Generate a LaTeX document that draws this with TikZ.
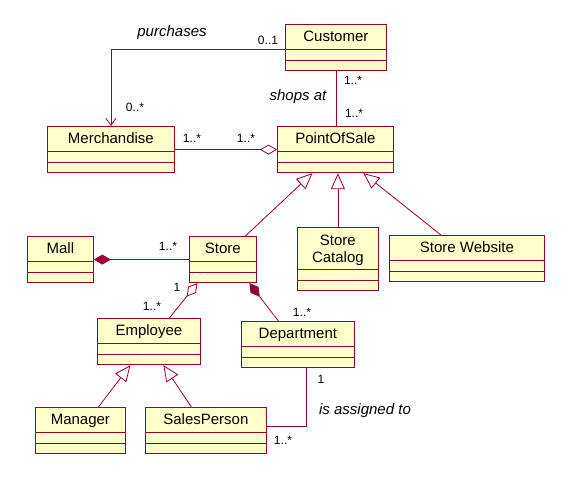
\documentclass[tikz,border=0pt]{standalone}
\usepackage{fontspec}
\setmainfont{Liberation Sans}
\usetikzlibrary{shapes.multipart,arrows.meta}

\definecolor{umlred}{RGB}{153,0,51}
\definecolor{umlfill}{RGB}{255,255,204}
\newcommand\cname[1]{\rule[-7pt]{0pt}{24pt}#1}

\tikzset{
  class/.style = { draw = umlred, fill = umlfill, line width = .8pt, rectangle split, rectangle split parts = 3,
    rectangle split empty part height = 10pt, rectangle split empty part depth = 0pt,
    inner ysep = 0pt, inner xsep = 2pt, anchor = north west, font = \fontsize{15}{17}\selectfont },
  assoc/.style = { draw = umlred, line width = .8pt },
  isa/.style = { assoc, -{Triangle[open, length = 16pt, width = 14pt, fill = white]} },
  agg/.style = { assoc, {Diamond[open, length = 17pt, width = 10pt, fill = white]}-{} },
  comp/.style = { assoc, {Diamond[length = 17pt, width = 10pt]}-{} },
  mult/.style = { font = \fontsize{12}{14}\selectfont, inner sep = 0pt },
  role/.style = { font = \fontsize{15}{17}\selectfont\itshape, inner sep = 0pt }
}

\begin{document}
\begin{tikzpicture}[x = 1pt, y = -1pt]
  \useasboundingbox (0,0) rectangle (569,476);

  \node [class, minimum width = 101pt] (customer) at (285,24) {\cname{Customer}\nodepart{two}\nodepart{three}};
  \node [class, minimum width = 127pt] (merch) at (47,126) {\cname{Merchandise}\nodepart{two}\nodepart{three}};
  \node [class, minimum width = 116pt] (pos) at (277,126) {\cname{PointOfSale}\nodepart{two}\nodepart{three}};
  \node [class, minimum width = 66pt] (mall) at (27,236) {\cname{Mall}\nodepart{two}\nodepart{three}};
  \node [class, minimum width = 67pt] (store) at (189,236) {\cname{Store}\nodepart{two}\nodepart{three}};
  \node [class, minimum width = 81pt] (catalog) at (297,227)
    {\rule[-6pt]{0pt}{41pt}\begin{tabular}[b]{@{}c@{}}Store\\Catalog\end{tabular}\nodepart{two}\nodepart{three}};
  \node [class, minimum width = 155pt] (website) at (389,235) {\cname{Store Website}\nodepart{two}\nodepart{three}};
  \node [class, minimum width = 103pt] (employee) at (97,318) {\cname{Employee}\nodepart{two}\nodepart{three}};
  \node [class, minimum width = 113pt] (dept) at (241,321) {\cname{Department}\nodepart{two}\nodepart{three}};
  \node [class, minimum width = 90pt] (manager) at (35,407) {\cname{Manager}\nodepart{two}\nodepart{three}};
  \node [class, minimum width = 121pt] (sales) at (145,407) {\cname{SalesPerson}\nodepart{two}\nodepart{three}};

  \draw [assoc, -{Straight Barb[length = 7pt, width = 10pt]}] ([yshift = -2pt]customer.west) -| (merch.north);
  \draw [assoc] (customer.south) -- (customer.south |- pos.north);
  \draw [assoc, -{Diamond[open, length = 17pt, width = 10pt, fill = white]}] (merch) -- (pos);
  \draw [isa] ([xshift = 22.5pt]store.north) -- ([xshift = -23pt]pos.south);
  \draw [isa] (catalog.north) -- (catalog.north |- pos.south);
  \draw [isa] ([xshift = -26pt]website.north) -- ([xshift = 28pt]pos.south);
  \draw [comp] (mall) -- (store);
  \draw [agg] ([xshift = -25.5pt]store.south) -- ([xshift = 20.5pt]employee.north);
  \draw [comp] ([xshift = 26.5pt]store.south) -- ([xshift = -19.5pt]dept.north);
  \draw [isa] ([xshift = 18pt]manager.north) -- ([xshift = -18.5pt]employee.south);
  \draw [isa] ([xshift = -14.5pt]sales.north) -- ([xshift = 14.5pt]employee.south);
  \draw [assoc] ([xshift = 8.5pt]dept.south) |- ([yshift = 4pt]sales.east);

  \node [role] (purchases) at (172,33) {purchases};
  \node [mult] (purchCust) at (268,40) {0..1};
  \node [mult] (purchMerch) at (135,107) {0..*};
  \node [role] (shops) at (298,97) {shops at};
  \node [mult] (shopsCust) at (353,80) {1..*};
  \node [mult] (shopsPos) at (354,113) {1..*};
  \node [mult] (soldMerch) at (192,138) {1..*};
  \node [mult] (soldPos) at (246,138) {1..*};
  \node [mult] (mallStore) at (168,246) {1..*};
  \node [mult] (empStore) at (177,287) {1};
  \node [mult] (empEmp) at (152,306) {1..*};
  \node [mult] (deptDept) at (302,312) {1..*};
  \node [mult] (assignDept) at (321,379) {1};
  \node [role] (assigned) at (365,411) {is assigned to};
  \node [mult] (assignSales) at (283,440) {1..*};
\end{tikzpicture}
\end{document}
